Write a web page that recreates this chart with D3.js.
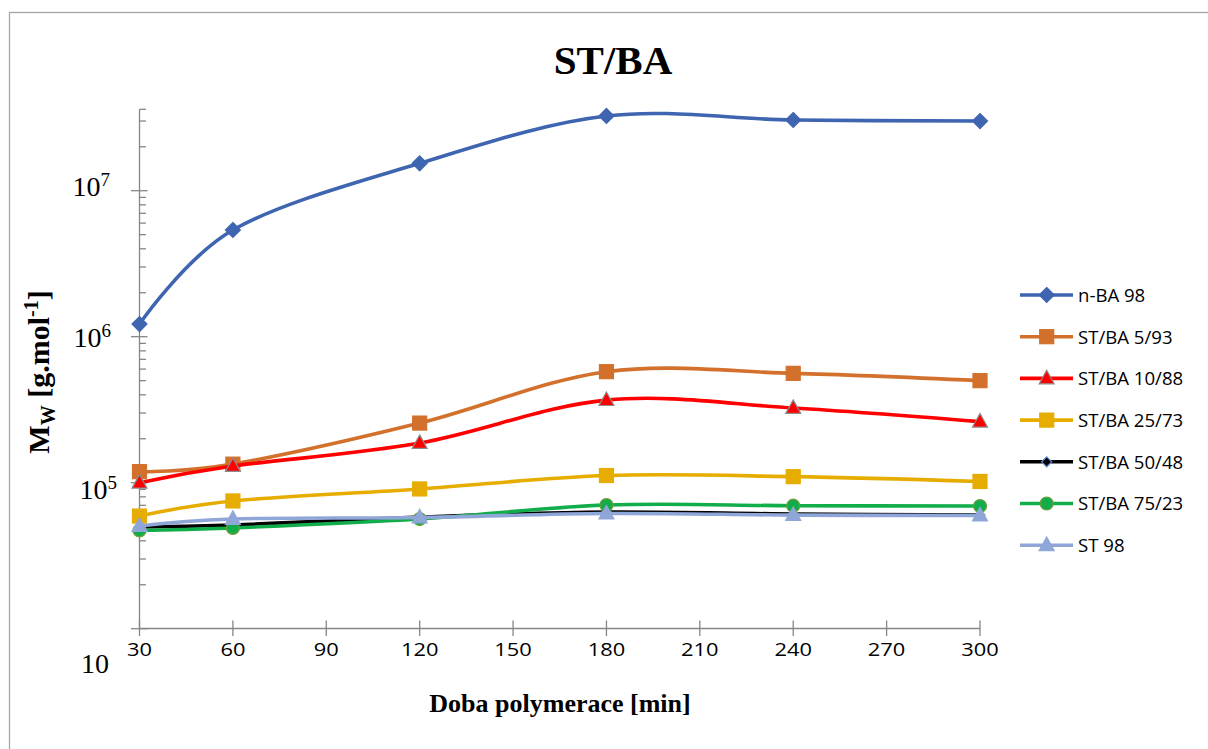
<!DOCTYPE html>
<html>
<head>
<meta charset="utf-8">
<script src="https://cdn.jsdelivr.net/npm/d3@7"></script>
<style>
  html, body { margin: 0; padding: 0; background: #fff; }
  svg { display: block; }
</style>
</head>
<body>
<svg id="chart" width="1208" height="749"></svg>
<script>
// ---------- data ----------
const times = [30, 60, 120, 180, 240, 300];
const seriesNames = ["n-BA 98", "ST/BA 5/93", "ST/BA 10/88", "ST/BA 25/73", "ST/BA 50/48", "ST/BA 75/23", "ST 98"];
const nBA98   = [1.22e6, 5.38e6, 1.54e7, 3.25e7, 3.05e7, 3.0e7];
const stba593 = [1.19e5, 1.34e5, 2.56e5, 5.76e5, 5.61e5, 5.0e5];
const stba1088 = [1.0e5, 1.30e5, 1.87e5, 3.68e5, 3.25e5, 2.62e5];
const stba2573 = [5.91e4, 7.5e4, 9.06e4, 1.12e5, 1.10e5, 1.02e5];
const stba5048 = [4.97e4, 5.13e4, 5.82e4, 6.3e4, 6.1e4, 6.0e4];
const stba7523 = [4.71e4, 4.9e4, 5.64e4, 7.03e4, 6.96e4, 6.92e4];
const st98    = [5.05e4, 5.64e4, 5.78e4, 6.15e4, 6.0e4, 5.96e4];
const xTicks = [30, 60, 90, 120, 150, 180, 210, 240, 270, 300];
const yMajorTicks = [1e5, 1e6, 1e7];
const yBottomLabel = "10";
const titleText = "ST/BA";
const xTitle = "Doba polymerace [min]";

// ---------- styling ----------
const styles = [
  { color: "#3f65b1", marker: "diamond", size: 15, fill: "#3f65b1", stroke: "#3f65b1" },
  { color: "#d2702c", marker: "square", size: 14, fill: "#d2702c", stroke: "#d2702c" },
  { color: "#ff0000", marker: "triangle", size: 15, fill: "#ff0000", stroke: "#8c8c8c" },
  { color: "#e6ad00", marker: "square", size: 14, fill: "#e6ad00", stroke: "#e6ad00" },
  { color: "#000000", marker: "diamond", size: 10, fill: "#000000", stroke: "#5b8bd0" },
  { color: "#12ad4b", marker: "circle", size: 13, fill: "#12ad4b", stroke: "#6f9e3a" },
  { color: "#8fa6d8", marker: "triangle", size: 15, fill: "#8fa6d8", stroke: "#8fa6d8" }
];
const allValues = [nBA98, stba593, stba1088, stba2573, stba5048, stba7523, st98];
const series = seriesNames.map((n, i) => ({ name: n, values: allValues[i], style: styles[i] }));

const svg = d3.select("#chart");

// chart border
svg.append("rect").attr("x", 9.5).attr("y", 12.5).attr("width", 1220).attr("height", 760)
  .attr("fill", "#fff").attr("stroke", "#a6a6a6").attr("stroke-width", 1.3);

const x = d3.scaleLinear().domain([30, 300]).range([139.5, 980]);
const y = d3.scaleLog().domain([1e4, 3.61e7]).range([628.7, 109.3]);

const axisColor = "#868686";

// ---- Y axis ----
const gy = svg.append("g");
gy.append("line").attr("x1", 139.5).attr("x2", 139.5).attr("y1", y(3.61e7)).attr("y2", y(1e4))
  .attr("stroke", axisColor).attr("stroke-width", 1.3);
const minor = [];
for (let e = 4; e <= 7; e++) for (let m = 2; m <= 9; m++) { const v = m * Math.pow(10, e); if (v <= 3.61e7) minor.push(v); }
minor.push(3.61e7);
gy.selectAll("line.minor").data(minor).enter().append("line").attr("class", "minor")
  .attr("x1", 139.5).attr("x2", 146).attr("y1", d => y(d)).attr("y2", d => y(d))
  .attr("stroke", axisColor).attr("stroke-width", 1.3);
gy.selectAll("line.major").data([1e4, 1e5, 1e6, 1e7]).enter().append("line").attr("class", "major")
  .attr("x1", 131).attr("x2", 147.5).attr("y1", d => y(d)).attr("y2", d => y(d))
  .attr("stroke", axisColor).attr("stroke-width", 1.3);

const labelShift = { 5: [7, 16], 6: [1, 10], 7: [0, 5] };
yMajorTicks.forEach(v => {
  const e = Math.round(Math.log10(v));
  const sh = labelShift[e] || [0, 8];
  const t = svg.append("text")
    .attr("x", 110 + sh[0]).attr("y", y(v) + sh[1])
    .attr("text-anchor", "end")
    .attr("font-family", "'Liberation Serif', 'Times New Roman', serif")
    .attr("font-size", 28).attr("fill", "#000");
  t.append("tspan").text("10");
  t.append("tspan").attr("font-size", 19).attr("dy", -10).text(String(e));
});
svg.append("text").attr("x", 109).attr("y", y(1e4) + 44).attr("text-anchor", "end")
  .attr("font-family", "'Liberation Serif', 'Times New Roman', serif")
  .attr("font-size", 28).attr("fill", "#000").text(yBottomLabel);

// ---- X axis ----
const gx = svg.append("g");
gx.append("line").attr("x1", x(30)).attr("x2", x(300)).attr("y1", 628.5).attr("y2", 628.5)
  .attr("stroke", axisColor).attr("stroke-width", 1.3);
gx.selectAll("line.xt").data(xTicks).enter().append("line").attr("class", "xt")
  .attr("x1", d => x(d)).attr("x2", d => x(d)).attr("y1", 620.5).attr("y2", 636)
  .attr("stroke", axisColor).attr("stroke-width", 1.3);
gx.selectAll("g.xl").data(xTicks).enter().append("g").attr("class", "xl")
  .attr("transform", d => `translate(${x(d)},655.5)`)
  .append("text").attr("text-anchor", "middle")
  .attr("transform", "scale(1.25,1)")
  .attr("font-family", "'Open Sans', sans-serif").attr("font-size", 17.5).attr("fill", "#000")
  .text(d => d);

// ---- lines ----
const line = d3.line().x((d, i) => x(times[i])).y(d => y(d)).curve(d3.curveCatmullRom.alpha(0));

function drawMarker(g, st, cx, cy) {
  const s = st.size;
  let el;
  if (st.marker === "diamond") {
    const r = s / 2;
    el = g.append("path").attr("d", `M${cx},${cy - r}L${cx + r},${cy}L${cx},${cy + r}L${cx - r},${cy}Z`);
  } else if (st.marker === "square") {
    el = g.append("rect").attr("x", cx - s / 2).attr("y", cy - s / 2).attr("width", s).attr("height", s);
  } else if (st.marker === "triangle") {
    const h = s * 0.9, w = s;
    el = g.append("path").attr("d", `M${cx},${cy - h * 0.6}L${cx + w / 2},${cy + h * 0.4}L${cx - w / 2},${cy + h * 0.4}Z`);
  } else {
    el = g.append("circle").attr("cx", cx).attr("cy", cy).attr("r", s / 2);
  }
  el.attr("fill", st.fill).attr("stroke", st.stroke).attr("stroke-width", 1.2);
}

const gl = svg.append("g");
series.forEach(s => {
  const g = gl.append("g");
  g.append("path").attr("d", line(s.values)).attr("fill", "none")
    .attr("stroke", s.style.color).attr("stroke-width", 3.6).attr("stroke-linejoin", "round");
  s.values.forEach((v, i) => drawMarker(g, s.style, x(times[i]), y(v)));
});

// ---- legend ----
const lg = svg.append("g");
series.forEach((s, i) => {
  const cy = 295 + i * 41.7;
  lg.append("line").attr("x1", 1020).attr("x2", 1073).attr("y1", cy).attr("y2", cy)
    .attr("stroke", s.style.color).attr("stroke-width", 3.6);
  drawMarker(lg, s.style, 1046.7, cy);
  lg.append("text").attr("x", 1078).attr("y", cy + 6.8)
    .attr("font-family", "'Open Sans', sans-serif").attr("font-size", 18.6).attr("fill", "#000")
    .text(s.name);
});

// ---- titles ----
svg.append("text").attr("x", 613).attr("y", 74).attr("text-anchor", "middle")
  .attr("font-family", "'Liberation Serif', 'Times New Roman', serif").attr("font-weight", "bold")
  .attr("font-size", 41).attr("fill", "#000").text(titleText);

svg.append("text").attr("x", 560).attr("y", 712).attr("text-anchor", "middle")
  .attr("font-family", "'Liberation Serif', 'Times New Roman', serif").attr("font-weight", "bold")
  .attr("font-size", 26).attr("fill", "#000").text(xTitle);

const yl = svg.append("text").attr("transform", "translate(49,372) rotate(-90)").attr("text-anchor", "middle")
  .attr("font-family", "'Liberation Serif', 'Times New Roman', serif").attr("font-weight", "bold")
  .attr("font-size", 30).attr("fill", "#000");
yl.append("tspan").text("M");
yl.append("tspan").attr("font-size", 20).attr("dy", 6).text("W");
yl.append("tspan").attr("dy", -6).text(" [g.mol");
yl.append("tspan").attr("font-size", 20).attr("dy", -11).text("-1");
yl.append("tspan").attr("dy", 11).text("]");
</script>
</body>
</html>
